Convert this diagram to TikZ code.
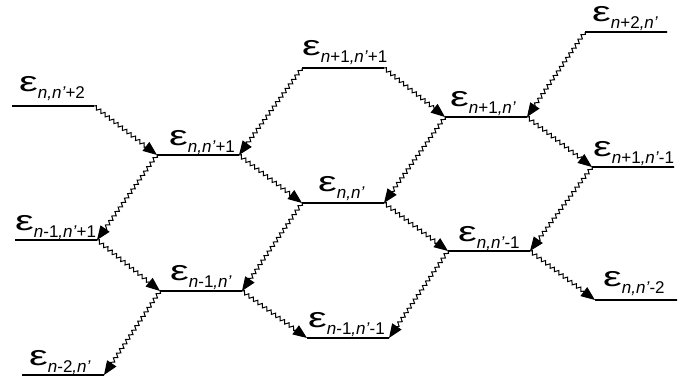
\documentclass[tikz,border=0pt]{standalone}
\usepackage{fontspec}
\setmainfont{Liberation Sans}
\usetikzlibrary{decorations.pathmorphing,arrows.meta}
\newcommand{\epsg}{\scalebox{1.5}[1]{\fontsize{28}{28}\selectfont ε}}
\newcommand{\lbl}[1]{\epsg\raisebox{-7pt}{\fontsize{17}{17}\selectfont #1}}
\newcommand{\ii}[1]{\textit{#1}}
\begin{document}
\begin{tikzpicture}[x=1pt,y=-1pt,
  lev/.style={draw, line width=1.6pt, minimum width=82pt, minimum height=0pt, inner sep=0pt, outer sep=0pt, anchor=west},
  lab/.style={anchor=base west, inner sep=0pt},
  tr/.style={line width=1pt, decorate,
    decoration={snake, amplitude=1.8pt, segment length=5.5pt, post length=12pt},
    -{Triangle[length=14pt,width=11pt]}}]
\useasboundingbox (0,0) rectangle (694,386);
% levels
\node[lev] (A) at (12,106) {};
\node[lev] (B) at (157,155) {};
\node[lev] (C) at (302,68) {};
\node[lev] (D) at (445,117) {};
\node[lev] (E) at (585,32) {};
\node[lev] (F) at (592,167) {};
\node[lev] (G) at (15,240) {};
\node[lev] (H) at (160,291) {};
\node[lev] (I) at (22,375) {};
\node[lev] (J) at (307,338) {};
\node[lev] (K) at (302,203) {};
\node[lev] (L) at (448,251) {};
\node[lev] (M) at (595,300) {};
% labels
\node[lab] (Al) at (19,91) {\lbl{\ii{n,n’}+2}};
\node[lab] (Bl) at (169,145) {\lbl{\ii{n,n’}+1}};
\node[lab] (Cl) at (302,55) {\lbl{\ii{n}+1\ii{,n’}+1}};
\node[lab] (Dl) at (450,106) {\lbl{\ii{n}+1\ii{,n’}}};
\node[lab] (El) at (592,21) {\lbl{\ii{n}+2\ii{,n’}}};
\node[lab] (Fl) at (593,156) {\lbl{\ii{n}+1\ii{,n’}-1}};
\node[lab] (Gl) at (15,230) {\lbl{\ii{n}-1\ii{,n’}+1}};
\node[lab] (Hl) at (170,280) {\lbl{\ii{n}-1\ii{,n’}}};
\node[lab] (Il) at (29,365) {\lbl{\ii{n}-2\ii{,n’}}};
\node[lab] (Jl) at (308,327) {\lbl{\ii{n}-1\ii{,n’}-1}};
\node[lab] (Kl) at (318,191) {\lbl{\ii{n,n’}}};
\node[lab] (Ll) at (458,241) {\lbl{\ii{n,n’}-1}};
\node[lab] (Ml) at (603,286) {\lbl{\ii{n,n’}-2}};
% transitions
\draw[tr] (A.east) -- (B.west);
\draw[tr] (C.west) -- (B.east);
\draw[tr] (B.east) -- (K.west);
\draw[tr] (B.west) -- (G.east);
\draw[tr] (G.east) -- (H.west);
\draw[tr] (K.west) -- (H.east);
\draw[tr] (H.west) -- (I.east);
\draw[tr] (H.east) -- (J.west);
\draw[tr] (C.east) -- (D.west);
\draw[tr] (E.west) -- (D.east);
\draw[tr] (D.west) -- (K.east);
\draw[tr] (D.east) -- (F.west);
\draw[tr] (K.east) -- (L.west);
\draw[tr] (F.west) -- (L.east);
\draw[tr] (L.west) -- (J.east);
\draw[tr] (L.east) -- (M.west);
\end{tikzpicture}
\end{document}
